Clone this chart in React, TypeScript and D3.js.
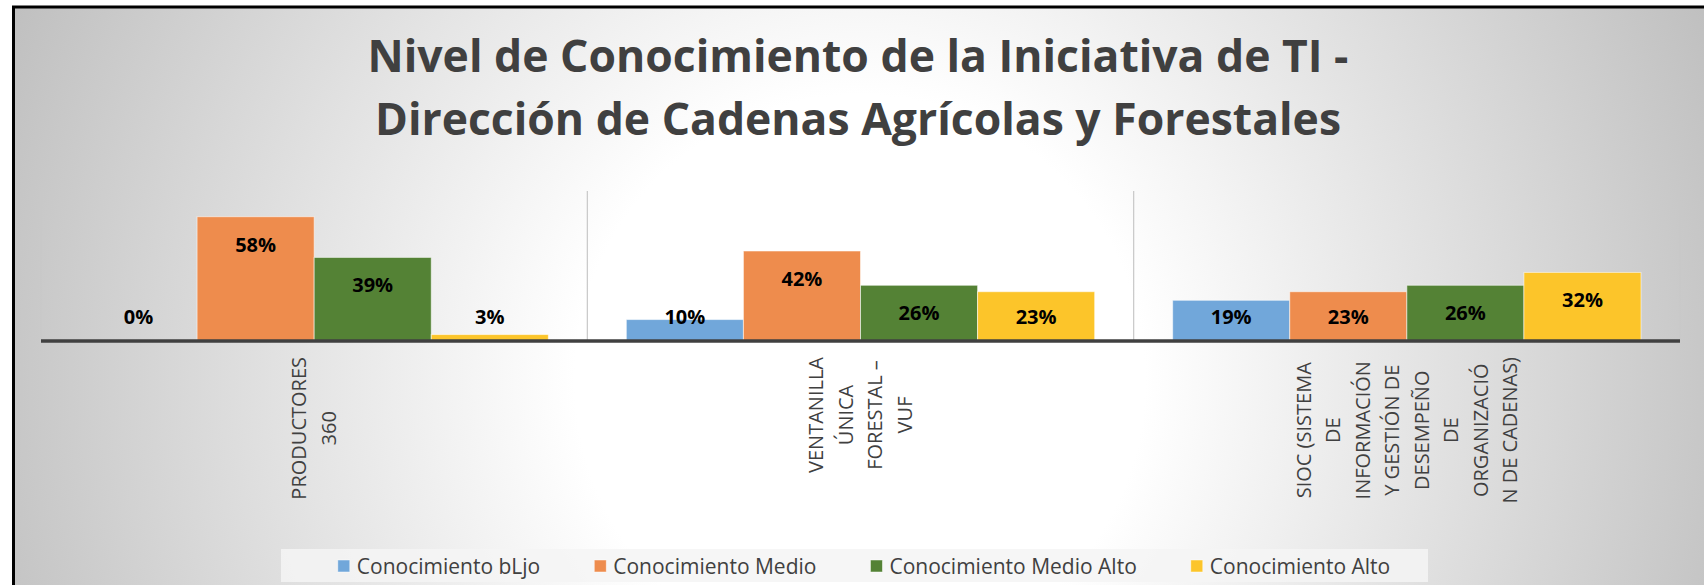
import React, { useEffect, useRef } from 'react';
import * as d3 from 'd3';

const titleLines = ['Nivel de Conocimiento de la Iniciativa de TI -', 'Dirección de Cadenas Agrícolas y Forestales'];
const categoryLines: string[][] = [
  ['PRODUCTORES', '360'],
  ['VENTANILLA', 'ÚNICA', 'FORESTAL –', 'VUF'],
  ['SIOC (SISTEMA', 'DE', 'INFORMACIÓN', 'Y GESTIÓN DE', 'DESEMPEÑO', 'DE', 'ORGANIZACIÓ', 'N DE CADENAS)'],
];
const categories = categoryLines.map((l) => l.join(' '));
const seriesNames = ['Conocimiento bLjo', 'Conocimiento Medio', 'Conocimiento Medio Alto', 'Conocimiento Alto'];
const bajo = [0, 0.1, 0.19];
const medio = [0.58, 0.42, 0.23];
const medioAlto = [0.39, 0.26, 0.26];
const alto = [0.03, 0.23, 0.32];
const seriesValues = [bajo, medio, medioAlto, alto];
const seriesColors = ['#71A7DA', '#EE8C4D', '#548235', '#FCC52A'];
const yDomain = [0, 0.7];

const W = 1704;
const H = 585;
const FONT = "'Open Sans', 'Noto Sans', sans-serif";

export default function App() {
  const ref = useRef<SVGSVGElement>(null);

  useEffect(() => {
    const svg = d3.select(ref.current);
    svg.selectAll('*').remove();

    const defs = svg.append('defs');
    const grad = defs
      .append('radialGradient')
      .attr('id', 'bg')
      .attr('gradientUnits', 'userSpaceOnUse')
      .attr('cx', 860)
      .attr('cy', 380)
      .attr('r', 950);
    grad.append('stop').attr('offset', 0).attr('stop-color', '#ffffff');
    grad.append('stop').attr('offset', 0.3).attr('stop-color', '#ffffff');
    grad.append('stop').attr('offset', 1).attr('stop-color', '#bdbdbd');

    svg.append('rect').attr('width', W).attr('height', H).attr('fill', '#ffffff');
    svg
      .append('rect')
      .attr('x', 13.5)
      .attr('y', 7)
      .attr('width', W + 50)
      .attr('height', H + 50)
      .attr('fill', 'url(#bg)')
      .attr('stroke', '#000')
      .attr('stroke-width', 3);

    // title
    const title = svg
      .append('text')
      .attr('font-family', FONT)
      .attr('font-weight', 700)
      .attr('font-size', 44.5)
      .attr('fill', '#404040')
      .attr('text-anchor', 'middle');
    titleLines.forEach((t, i) => {
      title.append('tspan').attr('x', 858).attr('y', 72 + i * 63).text(t);
    });

    const left = 41;
    const right = 1680;
    const top = 191;
    const base = 341;

    const x0 = d3.scaleBand<string>().domain(categories).range([left, right]).padding(0);
    const x1 = d3
      .scaleBand<string>()
      .domain(seriesNames)
      .range([0, x0.bandwidth()])
      .paddingInner(0)
      .paddingOuter(0.333);
    const y = d3.scaleLinear().domain(yDomain).range([base, top]);

    // vertical dividers
    const bounds = [...categories.map((c) => x0(c) as number), right];
    svg
      .append('g')
      .selectAll('line')
      .data(bounds)
      .join('line')
      .attr('x1', (d) => d)
      .attr('x2', (d) => d)
      .attr('y1', top)
      .attr('y2', base)
      .attr('stroke', '#c8c8c8')
      .attr('stroke-width', 1.2);

    // bars
    const fmt = d3.format('.0%');
    seriesNames.forEach((s, si) => {
      const g = svg.append('g');
      categories.forEach((c, ci) => {
        const v = seriesValues[si][ci];
        const bx = (x0(c) as number) + (x1(s) as number);
        const bw = x1.bandwidth();
        if (v > 0) {
          g.append('rect')
            .attr('x', bx)
            .attr('y', y(v))
            .attr('width', bw)
            .attr('height', base - y(v))
            .attr('fill', seriesColors[si])
            .attr('stroke', 'rgba(255,255,255,0.55)')
            .attr('stroke-width', 1);
        }
        const cy = Math.min(y(v) + 28, base - 24.5);
        g.append('text')
          .attr('x', bx + bw / 2)
          .attr('y', cy + 7)
          .attr('text-anchor', 'middle')
          .attr('font-family', FONT)
          .attr('font-weight', 700)
          .attr('font-size', 20)
          .attr('fill', '#000')
          .text(fmt(v));
      });
    });

    // baseline
    svg
      .append('line')
      .attr('x1', left)
      .attr('x2', right)
      .attr('y1', base)
      .attr('y2', base)
      .attr('stroke', '#404040')
      .attr('stroke-width', 3.5);

    // category labels
    const lineGap = 29.5;
    categories.forEach((c, ci) => {
      const lines = categoryLines[ci];
      const cx = (x0(c) as number) + x0.bandwidth() / 2;
      const g = svg.append('g');
      const texts = lines.map((t) =>
        g
          .append('text')
          .attr('text-anchor', 'middle')
          .attr('font-family', FONT)
          .attr('font-size', 20)
          .attr('fill', '#404040')
          .text(t)
      );
      const maxLen = d3.max(texts, (t) => (t.node() as SVGTextElement).getComputedTextLength()) || 0;
      const cyc = base + 16 + maxLen / 2;
      texts.forEach((t, li) => {
        const lx = cx + (li - (lines.length - 1) / 2) * lineGap;
        t.attr('transform', `translate(${lx},${cyc}) rotate(-90)`).attr('dy', '0.35em');
      });
    });

    // legend
    svg
      .append('rect')
      .attr('x', 281)
      .attr('y', 549)
      .attr('width', 1147)
      .attr('height', 33)
      .attr('fill', '#f4f4f4')
      .attr('opacity', 0.85);
    const lg = svg.append('g');
    const items = seriesNames.map((s, si) => {
      const t = lg
        .append('text')
        .attr('font-family', FONT)
        .attr('font-size', 21)
        .attr('fill', '#404040')
        .text(s);
      return { t, w: (t.node() as SVGTextElement).getComputedTextLength(), si };
    });
    const sq = 12;
    const gapSq = 7;
    const gapItem = 54;
    const total = d3.sum(items, (d) => sq + gapSq + d.w) + gapItem * (items.length - 1);
    let cx = 864 - total / 2;
    const ly = 566;
    items.forEach((d) => {
      lg.append('rect')
        .attr('x', cx)
        .attr('y', ly - sq / 2)
        .attr('width', sq)
        .attr('height', sq)
        .attr('fill', seriesColors[d.si])
        .attr('stroke', 'rgba(255,255,255,0.6)')
        .attr('stroke-width', 0.8);
      d.t.attr('x', cx + sq + gapSq).attr('y', ly + 7.5);
      cx += sq + gapSq + d.w + gapItem;
    });
  }, []);

  return (
    <svg
      ref={ref}
      width={W}
      height={H}
      style={{ position: 'absolute', left: 0, top: 0, display: 'block' }}
    />
  );
}
